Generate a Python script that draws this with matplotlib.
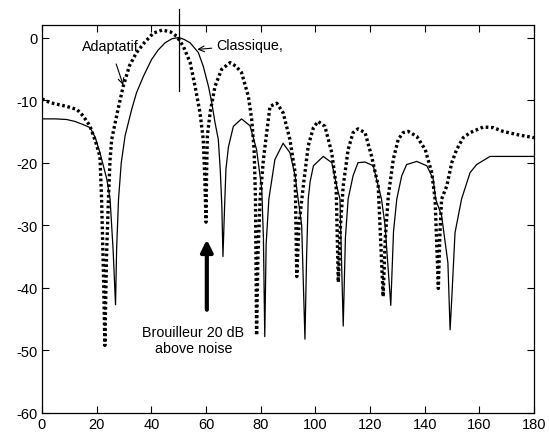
import numpy as np
import matplotlib.pyplot as plt

plt.rcParams['font.family'] = ['Liberation Sans', 'DejaVu Sans']
plt.rcParams['axes.unicode_minus'] = False

# angle (deg) / gain (dB)
x_classique = [0, 5, 9, 12, 15, 17.6, 19.5, 21.2, 23.7, 24.9, 26, 26.9, 27.3, 28, 29,
               30.4, 32.8, 34.6, 37.1, 40.1, 42.5, 45, 47.5, 50, 52, 54.2, 57.2, 59, 60.9,
               62.1, 63.3, 64.5, 65.2, 65.8, 66.2, 66.8, 67.3, 68.2, 70, 73, 76.1, 78.5,
               80.4, 81, 81.5, 82, 83, 85.2, 88.2, 90.7, 92.6, 93.7, 95, 96.2, 96.8, 97.4,
               98.1, 99.3, 102.9, 106, 107.8, 109, 110.2, 111, 112, 113.8, 115.6, 118.2,
               121.2, 123, 124.2, 125.5, 127.6, 128.6, 129.8, 131.6, 133.4, 137.1, 140.8,
               143.1, 144, 146.2, 148.5, 149.3, 149.9, 151.1, 153.5, 156.6, 159, 163.9,
               168.8, 175, 180]
y_classique = [-13, -13, -13.1, -13.4, -13.9, -14.4, -16, -18.4, -22.6, -25.8, -33.8, -42.7,
               -33.8, -25.8, -20, -15.7, -11.5, -8.8, -6.2, -3.5, -2, -0.85, -0.2, 0, -0.3,
               -0.85, -2.4, -4.6, -7.8, -10.4, -13.6, -16.3, -21, -27, -35, -27, -21, -17.5,
               -14.2, -13, -14.1, -17.9, -24.2, -32, -47.8, -33, -25.8, -19.5, -16.9, -18.4,
               -22.1, -25.8, -30, -48.2, -35, -25.8, -23, -20.5, -19, -20, -23.7, -25.8,
               -46.1, -32, -25.8, -22.1, -20, -19.9, -20.5, -23.7, -25.8, -30, -42.8, -31,
               -25.8, -22.1, -20.3, -19.8, -20.5, -22.6, -25.8, -28.5, -36, -46.7, -41.8,
               -31.2, -25.8, -21.6, -20.3, -19, -19, -19, -19]

x_adaptatif = [0, 2.9, 9, 12.8, 15, 17.5, 19.5, 21.2, 21.8, 22.5, 23, 23.6, 24.3, 24.9, 25.5,
               27.3, 29.7, 32, 34.6, 37.5, 40.7, 44, 47, 49.3, 51.7, 54.2, 56, 57.8, 59,
               59.6, 60, 60.2, 60.5, 61.5, 63.3, 65.7, 68.8, 71, 73, 75.5, 76.7, 77.6, 78.1,
               78.5, 79, 79.8, 81, 82.2, 83.4, 85.9, 88.2, 90.7, 92.6, 93.2, 94, 95.6, 97.4,
               99.3, 101, 103.5, 106, 107.6, 108.4, 109.2, 110.2, 112, 113.8, 115.6, 118.2,
               120.6, 123, 124.8, 125.6, 126.7, 128.5, 130.3, 132.1, 134, 137.1, 140.2,
               142.6, 143.8, 145, 145.6, 146.2, 148.1, 149.9, 151.7, 154.1, 156.6, 161.4,
               165.1, 168.7, 173.7, 178.6, 180]
y_adaptatif = [-9.8, -10.4, -11, -11.5, -12.5, -14.1, -16.5, -19, -25.8, -38, -49.2, -35,
               -25.8, -19.5, -16.3, -12.5, -7.8, -4.5, -2.4, -0.8, 0.7, 1.2, 0.9, 0.2, -1.4,
               -4, -7.8, -12, -16.3, -23, -29.5, -22, -15.7, -12, -7.8, -5.1, -4, -4.6, -5.6,
               -9.4, -13, -18, -25.8, -47.6, -35, -25.8, -19.5, -15.2, -11, -10.5, -12,
               -16.3, -21.6, -38.2, -30, -23.7, -17.3, -14.4, -13.4, -14.2, -18.4, -23.7,
               -39.1, -30, -23.7, -17.9, -15.2, -14.6, -15.2, -19, -23.7, -41.4, -32, -25.3,
               -19.5, -16.3, -15.2, -15, -15.8, -17.9, -21.6, -25.8, -40.1, -31, -25.8,
               -23.7, -20, -17.9, -16, -15.2, -14.3, -14.4, -15, -15.5, -15.9, -16]

x_ticks = [0, 20, 40, 60, 80, 100, 120, 140, 160, 180]
y_ticks = [0, -10, -20, -30, -40, -50, -60]

fig = plt.figure(figsize=(5.49, 4.35), dpi=100)
ax = fig.add_axes([0.0765, 0.0483, 0.8962, 0.8919])

ax.plot(x_classique, y_classique, color='black', lw=0.9)
ax.plot(x_adaptatif, y_adaptatif, color='black', lw=2.4, linestyle=(0, (0.8, 0.8)))

# look direction marker
ax.plot([50, 50], [4.5, -8.6], color='black', lw=0.9, clip_on=False)

ax.set_xlim(0, 180)
ax.set_ylim(-60, 2)
ax.set_xticks(x_ticks)
ax.set_yticks(y_ticks)
ax.tick_params(direction='in', top=True, right=True, length=5, labelsize=10.5, pad=3)
for s in ax.spines.values():
    s.set_linewidth(0.9)

ax.annotate('Adaptatif', xy=(29.7, -7.6), xytext=(25, -1.4), ha='center', va='center',
            fontsize=10.3,
            arrowprops=dict(arrowstyle='->', lw=0.8, color='black', shrinkA=6, shrinkB=0))
ax.annotate('Classique,', xy=(56.8, -1.9), xytext=(63.6, -1.2), ha='left', va='center',
            fontsize=10.3,
            arrowprops=dict(arrowstyle='->', lw=0.8, color='black', shrinkA=1, shrinkB=0))
ax.annotate('', xy=(60.3, -32.3), xytext=(60.3, -43.5),
            arrowprops=dict(arrowstyle='-|>,head_width=0.35,head_length=0.7', lw=3,
                            color='black', shrinkA=0, shrinkB=0))
ax.text(55.4, -48.3, 'Brouilleur 20 dB\nabove noise', ha='center', va='center',
        fontsize=10.3, linespacing=1.2)

fig.savefig('out.png', dpi=100)
